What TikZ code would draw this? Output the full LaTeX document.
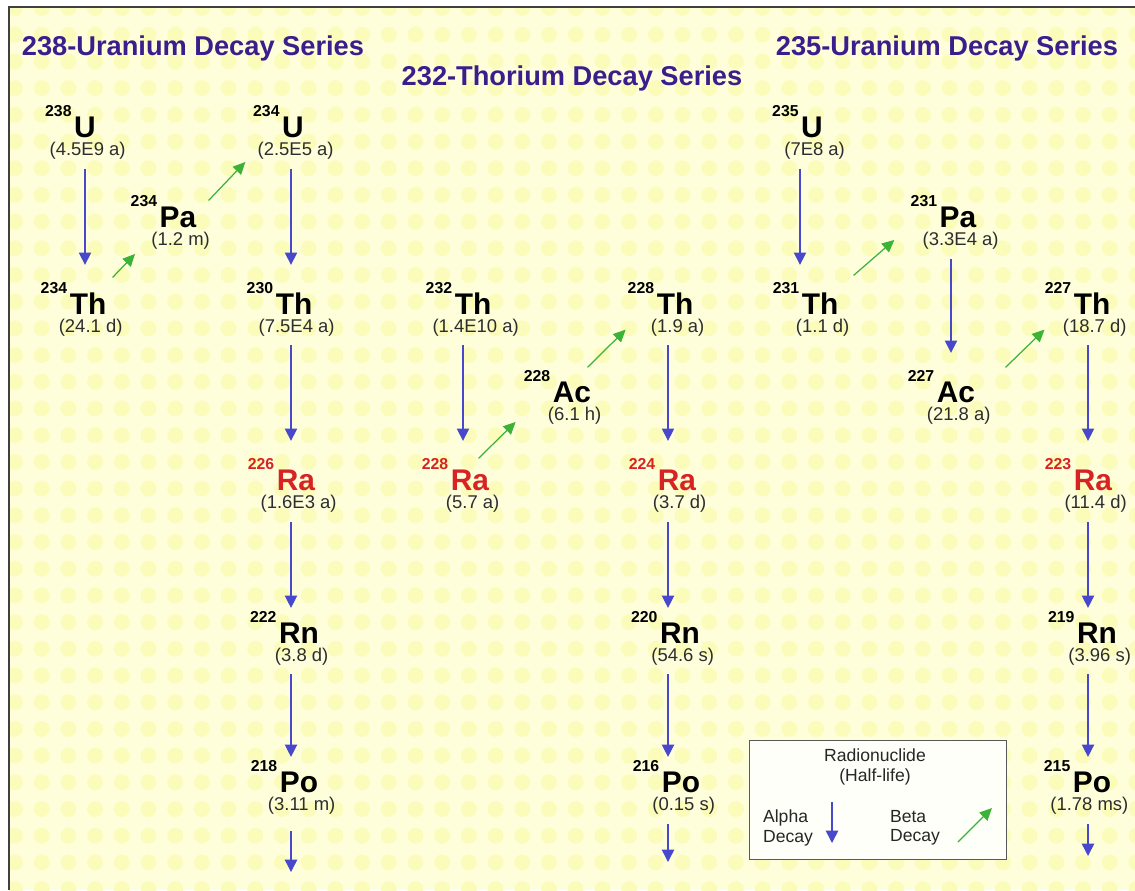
\documentclass[tikz,border=0pt]{standalone}
\usepackage{fontspec}
\setmainfont{Liberation Sans}
\usepackage{tikz}
\usetikzlibrary{arrows.meta,positioning}

\definecolor{bgyellow}{RGB}{254,254,218}
\definecolor{dotyellow}{RGB}{251,251,186}
\definecolor{titleblue}{RGB}{58,30,140}
\definecolor{alphablue}{RGB}{72,72,205}
\definecolor{betagreen}{RGB}{60,178,55}
\definecolor{rared}{RGB}{215,35,35}
\definecolor{halfgray}{RGB}{45,45,45}

\newcommand{\isot}[2]{\llap{\raisebox{11.5pt}{\fontsize{9}{9}\selectfont #1}\hspace{1.5pt}}#2}

\begin{document}
\begin{tikzpicture}[x=0.02cm, y=-0.02cm, node distance=2.5pt,
    sym/.style={anchor=base, inner sep=0pt, font=\fontsize{17}{17}\selectfont\bfseries},
    half/.style={inner sep=0pt, text=halfgray, font=\fontsize{10.5}{10.5}\selectfont, xshift=1.5pt},
    title/.style={anchor=base, inner sep=0pt, text=titleblue, font=\fontsize{15.5}{15.5}\selectfont\bfseries},
    alphadecay/.style={draw=alphablue, line width=0.8pt, -{Triangle[length=7pt,width=7pt]}, shorten <=5pt, shorten >=10pt},
    betadecay/.style={draw=betagreen, line width=0.7pt, -{Triangle[length=7pt,width=6.5pt]}},
    legendbox/.style={draw=black!65, fill=white!85!bgyellow, minimum width=146pt, minimum height=68pt, inner sep=0pt},
    legendtext/.style={inner sep=0pt, text=black!85, font=\fontsize{10}{11}\selectfont}]

    \useasboundingbox (0,0) rectangle (1135,890);
    \fill[bgyellow] (9,7) rectangle (1135,890);
    \begin{scope}
        \clip (9,7) rectangle (1135,890);
        \foreach \i in {0,...,42}
            \foreach \j in {0,...,33}
                \fill[dotyellow] ({15+26.7*\i},{8+26.7*\j}) circle (4.5pt);
    \end{scope}
    \draw[black!75, line width=1pt] (9,890) -- (9,7) -- (1135,7);

    \node[title] (t238) at (193,55) {238-Uranium Decay Series};
    \node[title] (t232) at (572,85) {232-Thorium Decay Series};
    \node[title] (t235) at (947,55) {235-Uranium Decay Series};

    \node[sym] (u238) at (85,137) {\isot{238}{U}};
    \node[half, below=of u238] (u238-hl) {(4.5E9 a)};
    \node[sym] (th234) at (88,314) {\isot{234}{Th}};
    \node[half, below=of th234] (th234-hl) {(24.1 d)};
    \node[sym] (pa234) at (178,227) {\isot{234}{Pa}};
    \node[half, below=of pa234] (pa234-hl) {(1.2 m)};
    \node[sym] (u234) at (293,137) {\isot{234}{U}};
    \node[half, below=of u234] (u234-hl) {(2.5E5 a)};
    \node[sym] (th230) at (294,314) {\isot{230}{Th}};
    \node[half, below=of th230] (th230-hl) {(7.5E4 a)};
    \node[sym, text=rared] (ra226) at (296,490) {\isot{226}{Ra}};
    \node[half, below=of ra226] (ra226-hl) {(1.6E3 a)};
    \node[sym] (rn222) at (299,643) {\isot{222}{Rn}};
    \node[half, below=of rn222] (rn222-hl) {(3.8 d)};
    \node[sym] (po218) at (299,792) {\isot{218}{Po}};
    \node[half, below=of po218] (po218-hl) {(3.11 m)};

    \node[sym] (th232) at (473,314) {\isot{232}{Th}};
    \node[half, below=of th232] (th232-hl) {(1.4E10 a)};
    \node[sym, text=rared] (ra228) at (470,490) {\isot{228}{Ra}};
    \node[half, below=of ra228] (ra228-hl) {(5.7 a)};
    \node[sym] (ac228) at (572,402) {\isot{228}{Ac}};
    \node[half, below=of ac228] (ac228-hl) {(6.1 h)};
    \node[sym] (th228) at (675,314) {\isot{228}{Th}};
    \node[half, below=of th228] (th228-hl) {(1.9 a)};
    \node[sym, text=rared] (ra224) at (677,490) {\isot{224}{Ra}};
    \node[half, below=of ra224] (ra224-hl) {(3.7 d)};
    \node[sym] (rn220) at (680,643) {\isot{220}{Rn}};
    \node[half, below=of rn220] (rn220-hl) {(54.6 s)};
    \node[sym] (po216) at (681,792) {\isot{216}{Po}};
    \node[half, below=of po216] (po216-hl) {(0.15 s)};

    \node[sym] (u235) at (812,137) {\isot{235}{U}};
    \node[half, below=of u235] (u235-hl) {(7E8 a)};
    \node[sym] (th231) at (820,314) {\isot{231}{Th}};
    \node[half, below=of th231] (th231-hl) {(1.1 d)};
    \node[sym] (pa231) at (958,227) {\isot{231}{Pa}};
    \node[half, below=of pa231] (pa231-hl) {(3.3E4 a)};
    \node[sym] (ac227) at (956,402) {\isot{227}{Ac}};
    \node[half, below=of ac227] (ac227-hl) {(21.8 a)};
    \node[sym] (th227) at (1092,314) {\isot{227}{Th}};
    \node[half, below=of th227] (th227-hl) {(18.7 d)};
    \node[sym, text=rared] (ra223) at (1093,490) {\isot{223}{Ra}};
    \node[half, below=of ra223] (ra223-hl) {(11.4 d)};
    \node[sym] (rn219) at (1097,643) {\isot{219}{Rn}};
    \node[half, below=of rn219] (rn219-hl) {(3.96 s)};
    \node[sym] (po215) at (1092,792) {\isot{215}{Po}};
    \node[half, below=of po215, xshift=-3pt] (po215-hl) {(1.78 ms)};

    \coordinate (col1) at (85,0);
    \coordinate (col2) at (291,0);
    \coordinate (col3) at (463,0);
    \coordinate (col4) at (668,0);
    \coordinate (col5) at (800,0);
    \coordinate (col6) at (951,0);
    \coordinate (col7) at (1088,0);
    \coordinate (end218) at (291,872);
    \coordinate (end216) at (668,862);
    \coordinate (end215) at (1088,856);

    \draw[alphadecay] (u238-hl.south -| col1) -- (th234.north -| col1);
    \draw[alphadecay] (u234-hl.south -| col2) -- (th230.north -| col2);
    \draw[alphadecay] (th230-hl.south -| col2) -- (ra226.north -| col2);
    \draw[alphadecay, shorten >=2pt] (ra226-hl.south -| col2) -- (rn222.north -| col2);
    \draw[alphadecay, shorten >=2pt] (rn222-hl.south -| col2) -- (po218.north -| col2);
    \draw[alphadecay, shorten <=9pt, shorten >=0pt] (po218-hl.south -| col2) -- (end218);
    \draw[alphadecay] (th232-hl.south -| col3) -- (ra228.north -| col3);
    \draw[alphadecay] (th228-hl.south -| col4) -- (ra224.north -| col4);
    \draw[alphadecay, shorten >=2pt] (ra224-hl.south -| col4) -- (rn220.north -| col4);
    \draw[alphadecay, shorten >=2pt] (rn220-hl.south -| col4) -- (po216.north -| col4);
    \draw[alphadecay, shorten >=0pt] (po216-hl.south -| col4) -- (end216);
    \draw[alphadecay] (u235-hl.south -| col5) -- (th231.north -| col5);
    \draw[alphadecay] (pa231-hl.south -| col6) -- (ac227.north -| col6);
    \draw[alphadecay] (th227-hl.south -| col7) -- (ra223.north -| col7);
    \draw[alphadecay, shorten >=2pt] (ra223-hl.south -| col7) -- (rn219.north -| col7);
    \draw[alphadecay, shorten >=2pt] (rn219-hl.south -| col7) -- (po215.north -| col7);
    \draw[alphadecay, shorten >=0pt] (po215-hl.south -| col7) -- (end215);

    \draw[betadecay] ([shift={(6,-5)}]th234.north east) -- ([shift={(-16,4)}]pa234-hl.south west);
    \draw[betadecay] ([shift={(12,5)}]pa234.north east) -- ([shift={(-12,2)}]u234-hl.south west);
    \draw[betadecay] ([shift={(-11,0)}]ra228.north east) -- ([shift={(-32,-3)}]ac228-hl.south west);
    \draw[betadecay] ([shift={(-4,-3)}]ac228.north east) -- ([shift={(-25,-7)}]th228-hl.south west);
    \draw[betadecay] ([shift={(15,-7)}]th231.north east) -- ([shift={(-28,-10)}]pa231-hl.south west);
    \draw[betadecay] ([shift={(30,-3)}]ac227.north east) -- ([shift={(-18,-7)}]th227-hl.south west);

    \node[legendbox] (legend) at (878,800) {};
    \node[legendtext, align=center] (legend-nuc) at (875,767) {Radionuclide\\(Half-life)};
    \node[legendtext, align=left] (legend-alpha) at (788,828) {Alpha\\Decay};
    \node[legendtext, align=left] (legend-beta) at (915,828) {Beta\\Decay};
    \coordinate (legend-a1) at (832,802);
    \coordinate (legend-a2) at (832,843);
    \coordinate (legend-b1) at (958,842);
    \coordinate (legend-b2) at (992,808);
    \draw[alphadecay, shorten <=0pt, shorten >=0pt] (legend-a1) -- (legend-a2);
    \draw[betadecay] (legend-b1) -- (legend-b2);
\end{tikzpicture}
\end{document}
